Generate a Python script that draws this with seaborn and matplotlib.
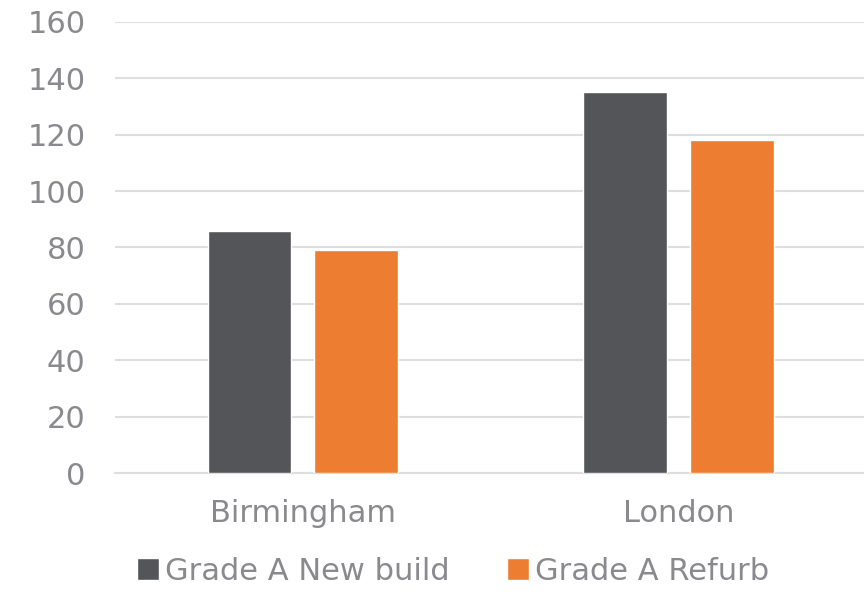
import pandas as pd
import seaborn as sns
import matplotlib.pyplot as plt

# chart values
cities = ["Birmingham", "London"]
grades = ["Grade A New build", "Grade A Refurb"]
new_build = [86, 135]
refurb = [79, 118]
colors = ["#545559", "#ED7D31"]

df = pd.DataFrame({
    "city": cities * 2,
    "grade": [grades[0]] * 2 + [grades[1]] * 2,
    "value": new_build + refurb,
})

sns.set_style("white")
plt.rcParams['font.family'] = ['DejaVu Sans']
text_col = "#8a8a8e"

fig = plt.figure(figsize=(8.64, 5.92), dpi=100)
ax = fig.add_axes([0.133, 0.201, 0.87, 0.762])

sns.barplot(data=df, x="city", y="value", hue="grade", palette=colors,
            width=0.568, gap=0.215, saturation=1, ax=ax, zorder=3)

ax.set_ylim(0, 160)
ax.set_xlim(-0.5, 1.5)
ax.set_yticks(range(0, 161, 20))
ax.yaxis.grid(True, color="#dedede", linewidth=1.5, zorder=0)
ax.set_axisbelow(True)
for s in ["top", "right", "left"]:
    ax.spines[s].set_visible(False)
ax.spines["bottom"].set_color("#dedede")
ax.spines["bottom"].set_linewidth(1.5)
ax.tick_params(axis="both", length=0, labelsize=22, colors=text_col)
ax.tick_params(axis="x", pad=19)
ax.tick_params(axis="y", pad=21)
ax.set_xlabel("")
ax.set_ylabel("")

ax.legend(loc="upper center", bbox_to_anchor=(0.45, -0.138), ncol=2, frameon=False,
          fontsize=22, labelcolor=text_col, handlelength=0.7, handleheight=0.7,
          handletextpad=0.2, columnspacing=1.9, borderpad=0.2)

fig.savefig("out.png", dpi=100)
